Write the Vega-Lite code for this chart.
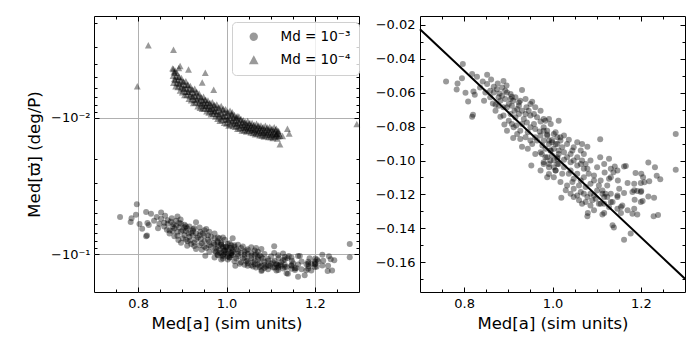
{
"$schema":"https://vega.github.io/schema/vega-lite/v6.json",
"padding":{"left":25,"top":15,"right":15,"bottom":5},
"background":"white",
"bounds":"flush",
"spacing":61,
"config":{"font":"DejaVu Sans","view":{"stroke":"black","strokeWidth":1},
"axis":{"domain":false,"labelFontSize":13,"labelColor":"black","titleFontSize":16.5,"titleFontWeight":"normal","titleColor":"black","tickColor":"black","tickWidth":1,"gridColor":"#b0b0b0","gridWidth":1,"labelOverlap":false,"labelFlush":false}},
"datasets":{
"fit":[{"a":0.7,"w":-0.0225},{"a":1.3,"w":-0.1698}],
"pts":[
{"a":0.759,"w":-0.0533,"s":"3"},{"a":0.797,"w":-0.0431,"s":"3"},{"a":0.785,"w":-0.0545,"s":"3"},{"a":0.783,"w":-0.0581,"s":"3"},{"a":0.795,"w":-0.0514,"s":"3"},{"a":0.803,"w":-0.06,"s":"3"},{"a":0.809,"w":-0.0651,"s":"3"},{"a":0.82,"w":-0.073,"s":"3"},{"a":0.818,"w":-0.0741,"s":"3"},{"a":0.821,"w":-0.0592,"s":"3"},
{"a":0.824,"w":-0.0612,"s":"3"},{"a":0.818,"w":-0.049,"s":"3"},{"a":0.829,"w":-0.0506,"s":"3"},{"a":0.842,"w":-0.0533,"s":"3"},{"a":0.852,"w":-0.0494,"s":"3"},{"a":0.861,"w":-0.0522,"s":"3"},{"a":0.845,"w":-0.0647,"s":"3"},{"a":0.859,"w":-0.0627,"s":"3"},{"a":0.867,"w":-0.0565,"s":"3"},{"a":0.876,"w":-0.0545,"s":"3"},
{"a":0.889,"w":-0.053,"s":"3"},{"a":0.896,"w":-0.0557,"s":"3"},{"a":0.865,"w":-0.0663,"s":"3"},{"a":0.871,"w":-0.0706,"s":"3"},{"a":0.88,"w":-0.0604,"s":"3"},{"a":0.886,"w":-0.0618,"s":"3"},{"a":0.905,"w":-0.0608,"s":"3"},{"a":0.908,"w":-0.0624,"s":"3"},{"a":0.882,"w":-0.0741,"s":"3"},{"a":0.891,"w":-0.0788,"s":"3"},
{"a":0.897,"w":-0.0824,"s":"3"},{"a":0.911,"w":-0.0867,"s":"3"},{"a":0.924,"w":-0.0657,"s":"3"},{"a":0.939,"w":-0.0637,"s":"3"},{"a":0.954,"w":-0.0653,"s":"3"},{"a":0.941,"w":-0.0686,"s":"3"},{"a":0.924,"w":-0.0726,"s":"3"},{"a":0.935,"w":-0.0755,"s":"3"},{"a":0.95,"w":-0.0735,"s":"3"},{"a":0.905,"w":-0.0726,"s":"3"},
{"a":0.914,"w":-0.0706,"s":"3"},{"a":0.889,"w":-0.0686,"s":"3"},{"a":0.878,"w":-0.0677,"s":"3"},{"a":0.871,"w":-0.0671,"s":"3"},{"a":0.901,"w":-0.0667,"s":"3"},{"a":0.912,"w":-0.0804,"s":"3"},{"a":0.927,"w":-0.0824,"s":"3"},{"a":0.944,"w":-0.0833,"s":"3"},{"a":0.931,"w":-0.0918,"s":"3"},{"a":0.944,"w":-0.0931,"s":"3"},
{"a":0.918,"w":-0.0794,"s":"3"},{"a":0.958,"w":-0.0784,"s":"3"},{"a":0.973,"w":-0.0769,"s":"3"},{"a":0.971,"w":-0.0828,"s":"3"},{"a":0.965,"w":-0.0882,"s":"3"},{"a":0.954,"w":-0.0902,"s":"3"},{"a":0.977,"w":-0.0912,"s":"3"},{"a":0.988,"w":-0.0847,"s":"3"},{"a":0.999,"w":-0.0879,"s":"3"},{"a":1.011,"w":-0.0902,"s":"3"},
{"a":0.996,"w":-0.0941,"s":"3"},{"a":0.988,"w":-0.0981,"s":"3"},{"a":1.003,"w":-0.1,"s":"3"},{"a":1.014,"w":-0.0765,"s":"3"},{"a":0.952,"w":-0.103,"s":"3"},{"a":0.973,"w":-0.1059,"s":"3"},{"a":0.992,"w":-0.1079,"s":"3"},{"a":1.007,"w":-0.1059,"s":"3"},{"a":0.924,"w":-0.0677,"s":"3"},{"a":0.911,"w":-0.0647,"s":"3"},
{"a":0.931,"w":-0.0584,"s":"3"},{"a":0.893,"w":-0.0588,"s":"3"},
{"a":1.108,"w":-0.0875,"s":"3"},{"a":1.079,"w":-0.0918,"s":"3"},{"a":1.279,"w":-0.0843,"s":"3"},{"a":1.279,"w":-0.1055,"s":"3"},{"a":1.108,"w":-0.098,"s":"3"},{"a":1.128,"w":-0.099,"s":"3"},{"a":1.162,"w":-0.1035,"s":"3"},{"a":1.217,"w":-0.1012,"s":"3"},{"a":1.232,"w":-0.1039,"s":"3"},{"a":1.236,"w":-0.109,"s":"3"},
{"a":1.244,"w":-0.111,"s":"3"},{"a":1.201,"w":-0.1078,"s":"3"},{"a":1.188,"w":-0.1074,"s":"3"},{"a":1.205,"w":-0.1098,"s":"3"},{"a":1.219,"w":-0.1122,"s":"3"},{"a":1.208,"w":-0.1128,"s":"3"},{"a":1.141,"w":-0.1035,"s":"3"},{"a":1.138,"w":-0.1069,"s":"3"},{"a":1.147,"w":-0.1059,"s":"3"},{"a":1.118,"w":-0.1071,"s":"3"},
{"a":1.132,"w":-0.1098,"s":"3"},{"a":1.148,"w":-0.1118,"s":"3"},{"a":1.17,"w":-0.1133,"s":"3"},{"a":1.185,"w":-0.1137,"s":"3"},{"a":1.2,"w":-0.1133,"s":"3"},{"a":1.181,"w":-0.1186,"s":"3"},{"a":1.192,"w":-0.118,"s":"3"},{"a":1.201,"w":-0.118,"s":"3"},{"a":1.162,"w":-0.1192,"s":"3"},{"a":1.151,"w":-0.1167,"s":"3"},
{"a":1.186,"w":-0.1231,"s":"3"},{"a":1.204,"w":-0.1239,"s":"3"},{"a":1.217,"w":-0.1212,"s":"3"},{"a":1.23,"w":-0.122,"s":"3"},{"a":1.158,"w":-0.1265,"s":"3"},{"a":1.185,"w":-0.1284,"s":"3"},{"a":1.02,"w":-0.122,"s":"3"},{"a":1.079,"w":-0.1216,"s":"3"},{"a":1.067,"w":-0.1255,"s":"3"},{"a":1.086,"w":-0.1265,"s":"3"},
{"a":0.988,"w":-0.0853,"s":"3"},{"a":1.003,"w":-0.0843,"s":"3"},{"a":1.018,"w":-0.0882,"s":"3"},{"a":1.033,"w":-0.0902,"s":"3"},{"a":1.048,"w":-0.0922,"s":"3"},{"a":0.995,"w":-0.0941,"s":"3"},{"a":1.014,"w":-0.0961,"s":"3"},{"a":1.033,"w":-0.098,"s":"3"},{"a":1.048,"w":-0.1,"s":"3"},{"a":1.064,"w":-0.102,"s":"3"},
{"a":1.079,"w":-0.1049,"s":"3"},{"a":1.094,"w":-0.1088,"s":"3"},{"a":1.109,"w":-0.1118,"s":"3"},{"a":1.124,"w":-0.1147,"s":"3"},{"a":1.132,"w":-0.1196,"s":"3"},{"a":1.117,"w":-0.1216,"s":"3"},{"a":1.101,"w":-0.1177,"s":"3"},{"a":1.086,"w":-0.1137,"s":"3"},{"a":1.071,"w":-0.1098,"s":"3"},{"a":1.056,"w":-0.1078,"s":"3"},
{"a":1.041,"w":-0.1059,"s":"3"},{"a":1.026,"w":-0.1039,"s":"3"},{"a":1.011,"w":-0.102,"s":"3"},{"a":0.995,"w":-0.1,"s":"3"},{"a":0.984,"w":-0.098,"s":"3"},{"a":1.003,"w":-0.1098,"s":"3"},{"a":1.018,"w":-0.1127,"s":"3"},{"a":1.033,"w":-0.1147,"s":"3"},{"a":1.048,"w":-0.1167,"s":"3"},{"a":1.064,"w":-0.1186,"s":"3"},
{"a":1.098,"w":-0.1226,"s":"3"},{"a":1.117,"w":-0.1255,"s":"3"},{"a":1.132,"w":-0.1245,"s":"3"},{"a":1.147,"w":-0.1216,"s":"3"},{"a":1.155,"w":-0.1275,"s":"3"},{"a":0.988,"w":-0.1098,"s":"3"},{"a":1.045,"w":-0.0941,"s":"3"},{"a":1.064,"w":-0.0941,"s":"3"},{"a":1.071,"w":-0.0961,"s":"3"},{"a":1.086,"w":-0.1,"s":"3"},
{"a":1.101,"w":-0.1039,"s":"3"},{"a":1.117,"w":-0.102,"s":"3"},{"a":1.132,"w":-0.1049,"s":"3"},
{"a":1.079,"w":-0.1329,"s":"3"},{"a":1.08,"w":-0.131,"s":"3"},{"a":1.113,"w":-0.1318,"s":"3"},{"a":1.117,"w":-0.131,"s":"3"},{"a":1.136,"w":-0.1382,"s":"3"},{"a":1.139,"w":-0.1396,"s":"3"},{"a":1.177,"w":-0.1431,"s":"3"},{"a":1.162,"w":-0.1467,"s":"3"},{"a":1.229,"w":-0.1329,"s":"3"},{"a":1.239,"w":-0.1322,"s":"3"},
{"a":1.181,"w":-0.1314,"s":"3"},{"a":1.192,"w":-0.1318,"s":"3"},{"a":1.155,"w":-0.131,"s":"3"},{"a":1.147,"w":-0.1284,"s":"3"},{"a":1.17,"w":-0.1294,"s":"3"},{"a":1.2,"w":-0.1245,"s":"3"},{"a":1.109,"w":-0.1255,"s":"3"},{"a":1.124,"w":-0.1216,"s":"3"},{"a":1.136,"w":-0.1245,"s":"3"},{"a":1.147,"w":-0.1206,"s":"3"},
{"a":1.113,"w":-0.1196,"s":"3"},{"a":1.094,"w":-0.1206,"s":"3"},{"a":1.071,"w":-0.1196,"s":"3"},{"a":1.056,"w":-0.1206,"s":"3"},{"a":1.041,"w":-0.1196,"s":"3"},{"a":1.094,"w":-0.1294,"s":"3"},{"a":1.128,"w":-0.1275,"s":"3"},{"a":1.185,"w":-0.1176,"s":"3"},{"a":1.2,"w":-0.1186,"s":"3"},{"a":1.166,"w":-0.1033,"s":"3"},
{"a":0.874,"w":-0.0579,"s":"3"},{"a":0.886,"w":-0.0569,"s":"3"},{"a":0.897,"w":-0.0598,"s":"3"},{"a":0.905,"w":-0.0637,"s":"3"},{"a":0.916,"w":-0.0627,"s":"3"},{"a":0.927,"w":-0.0647,"s":"3"},{"a":0.897,"w":-0.0686,"s":"3"},{"a":0.908,"w":-0.0677,"s":"3"},{"a":0.92,"w":-0.0696,"s":"3"},{"a":0.931,"w":-0.0706,"s":"3"},
{"a":0.939,"w":-0.0726,"s":"3"},{"a":0.946,"w":-0.0706,"s":"3"},{"a":0.958,"w":-0.0726,"s":"3"},{"a":0.965,"w":-0.0745,"s":"3"},{"a":0.942,"w":-0.0775,"s":"3"},{"a":0.931,"w":-0.0784,"s":"3"},{"a":0.95,"w":-0.0804,"s":"3"},{"a":0.961,"w":-0.0814,"s":"3"},{"a":0.98,"w":-0.0804,"s":"3"},{"a":0.988,"w":-0.0824,"s":"3"},
{"a":0.973,"w":-0.0853,"s":"3"},{"a":0.961,"w":-0.0863,"s":"3"},{"a":0.98,"w":-0.0882,"s":"3"},{"a":0.992,"w":-0.0902,"s":"3"},{"a":1.003,"w":-0.0931,"s":"3"},{"a":1.014,"w":-0.0941,"s":"3"},{"a":0.984,"w":-0.0931,"s":"3"},{"a":0.973,"w":-0.0951,"s":"3"},{"a":0.961,"w":-0.0961,"s":"3"},{"a":0.999,"w":-0.0971,"s":"3"},
{"a":1.011,"w":-0.099,"s":"3"},{"a":1.014,"w":-0.102,"s":"3"},{"a":0.992,"w":-0.102,"s":"3"},{"a":1.003,"w":-0.1039,"s":"3"},{"a":0.98,"w":-0.101,"s":"3"},{"a":0.939,"w":-0.0863,"s":"3"},{"a":0.927,"w":-0.0873,"s":"3"},{"a":0.95,"w":-0.0882,"s":"3"},{"a":0.92,"w":-0.0843,"s":"3"},{"a":0.889,"w":-0.0735,"s":"3"},
{"a":0.882,"w":-0.0647,"s":"3"},{"a":0.893,"w":-0.0637,"s":"3"},{"a":0.867,"w":-0.0598,"s":"3"},{"a":0.859,"w":-0.0588,"s":"3"},{"a":0.852,"w":-0.0549,"s":"3"},{"a":0.836,"w":-0.0569,"s":"3"},{"a":0.848,"w":-0.0598,"s":"3"},{"a":0.878,"w":-0.0627,"s":"3"},{"a":0.916,"w":-0.0745,"s":"3"},{"a":0.901,"w":-0.0765,"s":"3"},
{"a":0.908,"w":-0.0784,"s":"3"},{"a":0.973,"w":-0.0706,"s":"3"},{"a":0.98,"w":-0.0755,"s":"3"},{"a":0.996,"w":-0.0784,"s":"3"},{"a":1.007,"w":-0.0833,"s":"3"},{"a":1.018,"w":-0.0863,"s":"3"},{"a":0.992,"w":-0.0755,"s":"3"},{"a":0.95,"w":-0.0667,"s":"3"},{"a":0.961,"w":-0.0686,"s":"3"},
{"a":0.98,"w":-0.0824,"s":"3"},{"a":0.992,"w":-0.0882,"s":"3"},{"a":1.007,"w":-0.0902,"s":"3"},{"a":1.022,"w":-0.0922,"s":"3"},{"a":1.026,"w":-0.0951,"s":"3"},{"a":1.041,"w":-0.0961,"s":"3"},{"a":1.056,"w":-0.098,"s":"3"},{"a":1.067,"w":-0.1,"s":"3"},{"a":1.075,"w":-0.102,"s":"3"},{"a":1.082,"w":-0.1078,"s":"3"},
{"a":1.094,"w":-0.1118,"s":"3"},{"a":1.105,"w":-0.1147,"s":"3"},{"a":1.113,"w":-0.1177,"s":"3"},{"a":1.12,"w":-0.1196,"s":"3"},{"a":1.128,"w":-0.1108,"s":"3"},{"a":1.064,"w":-0.1118,"s":"3"},{"a":1.075,"w":-0.1157,"s":"3"},{"a":1.086,"w":-0.1196,"s":"3"},{"a":1.048,"w":-0.1108,"s":"3"},{"a":1.037,"w":-0.1078,"s":"3"},
{"a":1.022,"w":-0.1078,"s":"3"},{"a":1.007,"w":-0.1059,"s":"3"},{"a":0.992,"w":-0.1039,"s":"3"},{"a":0.98,"w":-0.102,"s":"3"},{"a":0.976,"w":-0.0961,"s":"3"},{"a":1.06,"w":-0.1147,"s":"3"},{"a":1.045,"w":-0.1127,"s":"3"},{"a":1.03,"w":-0.1176,"s":"3"},{"a":1.048,"w":-0.1216,"s":"3"},{"a":1.06,"w":-0.1235,"s":"3"},
{"a":1.075,"w":-0.1245,"s":"3"},{"a":1.09,"w":-0.1235,"s":"3"},{"a":1.105,"w":-0.1255,"s":"3"},{"a":1.071,"w":-0.1049,"s":"3"},{"a":1.056,"w":-0.1029,"s":"3"},{"a":1.041,"w":-0.101,"s":"3"},{"a":1.026,"w":-0.0996,"s":"3"},{"a":1.011,"w":-0.098,"s":"3"},{"a":0.999,"w":-0.0892,"s":"3"},{"a":1.011,"w":-0.0863,"s":"3"},
{"a":1.026,"w":-0.0853,"s":"3"},{"a":1.037,"w":-0.0878,"s":"3"},{"a":1.056,"w":-0.0892,"s":"3"},{"a":1.067,"w":-0.0902,"s":"3"},{"a":0.984,"w":-0.0765,"s":"3"},
{"a":0.878,"w":-0.004325,"s":"4"},{"a":0.881,"w":-0.004604,"s":"4"},{"a":0.879,"w":-0.004898,"s":"4"},{"a":0.882,"w":-0.005177,"s":"4"},{"a":0.88,"w":-0.00551,"s":"4"},
{"a":0.883,"w":-0.004657,"s":"4"},{"a":0.886,"w":-0.004955,"s":"4"},{"a":0.884,"w":-0.005237,"s":"4"},{"a":0.887,"w":-0.005534,"s":"4"},{"a":0.885,"w":-0.005847,"s":"4"},
{"a":0.888,"w":-0.004677,"s":"4"},{"a":0.891,"w":-0.004978,"s":"4"},{"a":0.889,"w":-0.005295,"s":"4"},{"a":0.892,"w":-0.005596,"s":"4"},{"a":0.89,"w":-0.005918,"s":"4"},
{"a":0.893,"w":-0.004975,"s":"4"},{"a":0.896,"w":-0.005298,"s":"4"},{"a":0.894,"w":-0.005598,"s":"4"},{"a":0.897,"w":-0.005959,"s":"4"},{"a":0.895,"w":-0.006298,"s":"4"},
{"a":0.898,"w":-0.005081,"s":"4"},{"a":0.901,"w":-0.005409,"s":"4"},{"a":0.899,"w":-0.005754,"s":"4"},{"a":0.902,"w":-0.006082,"s":"4"},{"a":0.9,"w":-0.006473,"s":"4"},
{"a":0.903,"w":-0.005409,"s":"4"},{"a":0.906,"w":-0.005754,"s":"4"},{"a":0.904,"w":-0.006082,"s":"4"},{"a":0.907,"w":-0.006428,"s":"4"},{"a":0.905,"w":-0.006791,"s":"4"},
{"a":0.908,"w":-0.005371,"s":"4"},{"a":0.911,"w":-0.005716,"s":"4"},{"a":0.909,"w":-0.00608,"s":"4"},{"a":0.912,"w":-0.006425,"s":"4"},{"a":0.91,"w":-0.006795,"s":"4"},
{"a":0.913,"w":-0.005713,"s":"4"},{"a":0.916,"w":-0.006083,"s":"4"},{"a":0.914,"w":-0.006428,"s":"4"},{"a":0.917,"w":-0.006843,"s":"4"},{"a":0.915,"w":-0.007232,"s":"4"},
{"a":0.918,"w":-0.005834,"s":"4"},{"a":0.921,"w":-0.006211,"s":"4"},{"a":0.919,"w":-0.006607,"s":"4"},{"a":0.922,"w":-0.006984,"s":"4"},{"a":0.92,"w":-0.007433,"s":"4"},
{"a":0.923,"w":-0.006182,"s":"4"},{"a":0.926,"w":-0.006577,"s":"4"},{"a":0.924,"w":-0.006951,"s":"4"},{"a":0.927,"w":-0.007346,"s":"4"},{"a":0.925,"w":-0.007761,"s":"4"},
{"a":0.928,"w":-0.006095,"s":"4"},{"a":0.931,"w":-0.006487,"s":"4"},{"a":0.929,"w":-0.0069,"s":"4"},{"a":0.932,"w":-0.007292,"s":"4"},{"a":0.93,"w":-0.007712,"s":"4"},
{"a":0.933,"w":-0.006483,"s":"4"},{"a":0.936,"w":-0.006904,"s":"4"},{"a":0.934,"w":-0.007295,"s":"4"},{"a":0.937,"w":-0.007766,"s":"4"},{"a":0.935,"w":-0.008207,"s":"4"},
{"a":0.938,"w":-0.006622,"s":"4"},{"a":0.941,"w":-0.007049,"s":"4"},{"a":0.939,"w":-0.007499,"s":"4"},{"a":0.942,"w":-0.007926,"s":"4"},{"a":0.94,"w":-0.008436,"s":"4"},
{"a":0.943,"w":-0.007083,"s":"4"},{"a":0.946,"w":-0.007459,"s":"4"},{"a":0.944,"w":-0.007804,"s":"4"},{"a":0.947,"w":-0.008173,"s":"4"},{"a":0.945,"w":-0.008564,"s":"4"},
{"a":0.948,"w":-0.006996,"s":"4"},{"a":0.951,"w":-0.007373,"s":"4"},{"a":0.949,"w":-0.007766,"s":"4"},{"a":0.952,"w":-0.008127,"s":"4"},{"a":0.95,"w":-0.008512,"s":"4"},
{"a":0.953,"w":-0.007345,"s":"4"},{"a":0.956,"w":-0.007732,"s":"4"},{"a":0.954,"w":-0.008102,"s":"4"},{"a":0.957,"w":-0.008529,"s":"4"},{"a":0.955,"w":-0.008932,"s":"4"},
{"a":0.958,"w":-0.007451,"s":"4"},{"a":0.961,"w":-0.007847,"s":"4"},{"a":0.959,"w":-0.00826,"s":"4"},{"a":0.962,"w":-0.008648,"s":"4"},{"a":0.96,"w":-0.009111,"s":"4"},
{"a":0.963,"w":-0.007784,"s":"4"},{"a":0.966,"w":-0.008197,"s":"4"},{"a":0.964,"w":-0.008576,"s":"4"},{"a":0.967,"w":-0.008981,"s":"4"},{"a":0.965,"w":-0.009411,"s":"4"},
{"a":0.968,"w":-0.007672,"s":"4"},{"a":0.971,"w":-0.008085,"s":"4"},{"a":0.969,"w":-0.008515,"s":"4"},{"a":0.972,"w":-0.008911,"s":"4"},{"a":0.97,"w":-0.009333,"s":"4"},
{"a":0.973,"w":-0.008035,"s":"4"},{"a":0.976,"w":-0.008458,"s":"4"},{"a":0.974,"w":-0.008863,"s":"4"},{"a":0.977,"w":-0.00933,"s":"4"},{"a":0.975,"w":-0.00977,"s":"4"},
{"a":0.978,"w":-0.007961,"s":"4"},{"a":0.981,"w":-0.008475,"s":"4"},{"a":0.979,"w":-0.009016,"s":"4"},{"a":0.982,"w":-0.00953,"s":"4"},{"a":0.98,"w":-0.01014,"s":"4"},
{"a":0.983,"w":-0.008357,"s":"4"},{"a":0.986,"w":-0.008891,"s":"4"},{"a":0.984,"w":-0.009397,"s":"4"},{"a":0.987,"w":-0.009931,"s":"4"},{"a":0.985,"w":-0.01049,"s":"4"},
{"a":0.988,"w":-0.008185,"s":"4"},{"a":0.991,"w":-0.008711,"s":"4"},{"a":0.989,"w":-0.009265,"s":"4"},{"a":0.992,"w":-0.009792,"s":"4"},{"a":0.99,"w":-0.01036,"s":"4"},
{"a":0.993,"w":-0.008587,"s":"4"},{"a":0.996,"w":-0.009143,"s":"4"},{"a":0.994,"w":-0.009661,"s":"4"},{"a":0.997,"w":-0.01028,"s":"4"},{"a":0.995,"w":-0.01087,"s":"4"},
{"a":0.998,"w":-0.008629,"s":"4"},{"a":1.001,"w":-0.009186,"s":"4"},{"a":0.999,"w":-0.009772,"s":"4"},{"a":1.002,"w":-0.01033,"s":"4"},{"a":1.0,"w":-0.01099,"s":"4"},
{"a":1.003,"w":-0.009059,"s":"4"},{"a":1.006,"w":-0.009638,"s":"4"},{"a":1.004,"w":-0.01019,"s":"4"},{"a":1.007,"w":-0.01077,"s":"4"},{"a":1.005,"w":-0.01137,"s":"4"},
{"a":1.008,"w":-0.008851,"s":"4"},{"a":1.011,"w":-0.00942,"s":"4"},{"a":1.009,"w":-0.01002,"s":"4"},{"a":1.012,"w":-0.01059,"s":"4"},{"a":1.01,"w":-0.0112,"s":"4"},
{"a":1.013,"w":-0.00944,"s":"4"},{"a":1.016,"w":-0.009937,"s":"4"},{"a":1.014,"w":-0.01041,"s":"4"},{"a":1.017,"w":-0.01096,"s":"4"},{"a":1.015,"w":-0.01148,"s":"4"},
{"a":1.018,"w":-0.009511,"s":"4"},{"a":1.021,"w":-0.01002,"s":"4"},{"a":1.019,"w":-0.01054,"s":"4"},{"a":1.022,"w":-0.01104,"s":"4"},{"a":1.02,"w":-0.01163,"s":"4"},
{"a":1.023,"w":-0.009936,"s":"4"},{"a":1.026,"w":-0.01046,"s":"4"},{"a":1.024,"w":-0.01095,"s":"4"},{"a":1.027,"w":-0.01146,"s":"4"},{"a":1.025,"w":-0.01201,"s":"4"},
{"a":1.028,"w":-0.00977,"s":"4"},{"a":1.031,"w":-0.0103,"s":"4"},{"a":1.029,"w":-0.01084,"s":"4"},{"a":1.032,"w":-0.01135,"s":"4"},{"a":1.03,"w":-0.01189,"s":"4"},
{"a":1.033,"w":-0.01016,"s":"4"},{"a":1.036,"w":-0.0107,"s":"4"},{"a":1.034,"w":-0.01121,"s":"4"},{"a":1.037,"w":-0.0118,"s":"4"},{"a":1.035,"w":-0.01236,"s":"4"},
{"a":1.038,"w":-0.01038,"s":"4"},{"a":1.041,"w":-0.01084,"s":"4"},{"a":1.039,"w":-0.01132,"s":"4"},{"a":1.042,"w":-0.01177,"s":"4"},{"a":1.04,"w":-0.0123,"s":"4"},
{"a":1.043,"w":-0.01072,"s":"4"},{"a":1.046,"w":-0.01121,"s":"4"},{"a":1.044,"w":-0.01165,"s":"4"},{"a":1.047,"w":-0.01211,"s":"4"},{"a":1.045,"w":-0.01258,"s":"4"},
{"a":1.048,"w":-0.01055,"s":"4"},{"a":1.051,"w":-0.01101,"s":"4"},{"a":1.049,"w":-0.0115,"s":"4"},{"a":1.052,"w":-0.01195,"s":"4"},{"a":1.05,"w":-0.01243,"s":"4"},
{"a":1.053,"w":-0.01088,"s":"4"},{"a":1.056,"w":-0.01136,"s":"4"},{"a":1.054,"w":-0.01181,"s":"4"},{"a":1.057,"w":-0.01234,"s":"4"},{"a":1.055,"w":-0.01282,"s":"4"},
{"a":1.058,"w":-0.0109,"s":"4"},{"a":1.061,"w":-0.01137,"s":"4"},{"a":1.059,"w":-0.01189,"s":"4"},{"a":1.062,"w":-0.01235,"s":"4"},{"a":1.06,"w":-0.01291,"s":"4"},
{"a":1.063,"w":-0.01123,"s":"4"},{"a":1.066,"w":-0.01173,"s":"4"},{"a":1.064,"w":-0.0122,"s":"4"},{"a":1.067,"w":-0.01268,"s":"4"},{"a":1.065,"w":-0.01318,"s":"4"},
{"a":1.068,"w":-0.01104,"s":"4"},{"a":1.071,"w":-0.01153,"s":"4"},{"a":1.069,"w":-0.01204,"s":"4"},{"a":1.072,"w":-0.01251,"s":"4"},{"a":1.07,"w":-0.01301,"s":"4"},
{"a":1.073,"w":-0.01137,"s":"4"},{"a":1.076,"w":-0.01187,"s":"4"},{"a":1.074,"w":-0.01234,"s":"4"},{"a":1.077,"w":-0.01289,"s":"4"},{"a":1.075,"w":-0.01339,"s":"4"},
{"a":1.078,"w":-0.01136,"s":"4"},{"a":1.081,"w":-0.01186,"s":"4"},{"a":1.079,"w":-0.01239,"s":"4"},{"a":1.082,"w":-0.01287,"s":"4"},{"a":1.08,"w":-0.01345,"s":"4"},
{"a":1.083,"w":-0.01168,"s":"4"},{"a":1.086,"w":-0.0122,"s":"4"},{"a":1.084,"w":-0.01269,"s":"4"},{"a":1.087,"w":-0.01319,"s":"4"},{"a":1.085,"w":-0.0137,"s":"4"},
{"a":1.088,"w":-0.01143,"s":"4"},{"a":1.091,"w":-0.01193,"s":"4"},{"a":1.089,"w":-0.01246,"s":"4"},{"a":1.092,"w":-0.01295,"s":"4"},{"a":1.09,"w":-0.01347,"s":"4"},
{"a":1.093,"w":-0.01174,"s":"4"},{"a":1.096,"w":-0.01226,"s":"4"},{"a":1.094,"w":-0.01274,"s":"4"},{"a":1.097,"w":-0.01331,"s":"4"},{"a":1.095,"w":-0.01383,"s":"4"},
{"a":1.098,"w":-0.01168,"s":"4"},{"a":1.101,"w":-0.01219,"s":"4"},{"a":1.099,"w":-0.01274,"s":"4"},{"a":1.102,"w":-0.01323,"s":"4"},{"a":1.1,"w":-0.01383,"s":"4"},
{"a":1.103,"w":-0.01198,"s":"4"},{"a":1.106,"w":-0.01252,"s":"4"},{"a":1.104,"w":-0.01302,"s":"4"},{"a":1.107,"w":-0.01353,"s":"4"},{"a":1.105,"w":-0.01405,"s":"4"},
{"a":1.108,"w":-0.0117,"s":"4"},{"a":1.111,"w":-0.01221,"s":"4"},{"a":1.109,"w":-0.01275,"s":"4"},{"a":1.112,"w":-0.01326,"s":"4"},{"a":1.11,"w":-0.01378,"s":"4"},
{"a":1.113,"w":-0.01201,"s":"4"},{"a":1.116,"w":-0.01254,"s":"4"},{"a":1.114,"w":-0.01304,"s":"4"},{"a":1.117,"w":-0.01362,"s":"4"},{"a":1.115,"w":-0.01415,"s":"4"},
{"a":1.118,"w":-0.01247,"s":"4"},{"a":1.121,"w":-0.01354,"s":"4"},{"a":1.119,"w":-0.01303,"s":"4"},
{"a":0.823,"w":-0.00292,"s":"4"},{"a":0.88,"w":-0.00316,"s":"4"},{"a":0.798,"w":-0.00585,"s":"4"},{"a":1.295,"w":-0.0111,"s":"4"},{"a":1.138,"w":-0.012,"s":"4"},{"a":1.142,"w":-0.013,"s":"4"},{"a":1.121,"w":-0.0156,"s":"4"},{"a":1.127,"w":-0.0136,"s":"4"},{"a":1.114,"w":-0.0132,"s":"4"},{"a":0.914,"w":-0.0044,"s":"4"},
{"a":0.952,"w":-0.00465,"s":"4"},{"a":0.971,"w":-0.0062,"s":"4"},{"a":0.945,"w":-0.0055,"s":"4"},{"a":1.024,"w":-0.0097,"s":"4"},{"a":1.013,"w":-0.0091,"s":"4"},{"a":0.892,"w":-0.0043,"s":"4"},{"a":0.884,"w":-0.0045,"s":"4"},{"a":0.88,"w":-0.00437,"s":"4"},{"a":0.895,"w":-0.00415,"s":"4"}
]},
"hconcat":[
{"width":265,"height":276,"data":{"name":"pts"},
"layer":[
{"mark":{"type":"point","filled":true,"color":"black","opacity":0.4,"size":36,"strokeWidth":0},
"encoding":{
"x":{"field":"a","type":"quantitative","scale":{"domain":[0.7,1.3],"nice":false,"zero":false},
"axis":{"orient":"bottom","values":[0.75,0.8,0.85,0.9,0.95,1.0,1.05,1.1,1.15,1.2,1.25],"grid":true,
"gridOpacity":{"condition":{"test":"abs(datum.value*5-round(datum.value*5))<0.001","value":1},"value":0},
"tickSize":{"condition":{"test":"abs(datum.value*5-round(datum.value*5))<0.001","value":-5},"value":-3},
"labelExpr":"abs(datum.value*5-round(datum.value*5))<0.001 ? format(datum.value,'.1f') : ''",
"labelPadding":10,"title":"Med[a] (sim units)","titlePadding":3}},
"y":{"field":"w","type":"quantitative","scale":{"type":"log","domain":[-0.19,-0.00178],"nice":false,"zero":false},
"axis":{"orient":"left","values":[-0.002,-0.003,-0.004,-0.005,-0.006,-0.007,-0.008,-0.009,-0.01,-0.02,-0.03,-0.04,-0.05,-0.06,-0.07,-0.08,-0.09,-0.1],"grid":true,
"gridOpacity":{"condition":{"test":"abs(datum.value+0.01)<0.0001 || abs(datum.value+0.1)<0.0001","value":1},"value":0},
"tickSize":{"condition":{"test":"abs(datum.value+0.01)<0.0001 || abs(datum.value+0.1)<0.0001","value":-5},"value":-3},
"labelExpr":"abs(datum.value+0.01)<0.0001 ? '−10⁻²' : (abs(datum.value+0.1)<0.0001 ? '−10⁻¹' : '')",
"labelPadding":9,"title":"Med[ϖ̇] (deg/P)","titlePadding":8}},
"shape":{"field":"s","type":"nominal","scale":{"domain":["3","4"],"range":["circle","M0,-1.1L1.15,1.05L-1.15,1.05Z"]},
"legend":{"orient":"none","legendX":138,"legendY":6,"title":null,"direction":"vertical",
"labelExpr":"datum.label == '3' ? 'Md = 10⁻³' : 'Md = 10⁻⁴'",
"labelFontSize":13.5,"labelColor":"black","symbolSize":70,"symbolFillColor":"#9a9a9a","symbolStrokeWidth":0,"symbolOpacity":0.4,
"padding":8,"rowPadding":8,"symbolOffset":7,"labelOffset":20,
"strokeColor":"#d0d0d0","fillColor":"rgba(255,255,255,0.8)","cornerRadius":4}}}},
{"mark":{"type":"point","opacity":0},
"encoding":{
"x":{"datum":1,"type":"quantitative","axis":{"orient":"top","values":[0.75,0.8,0.85,0.9,0.95,1.0,1.05,1.1,1.15,1.2,1.25],"grid":false,"labels":false,"title":null,
"tickSize":{"condition":{"test":"abs(datum.value*5-round(datum.value*5))<0.001","value":-5},"value":-3}}},
"y":{"datum":-0.01,"type":"quantitative","axis":{"orient":"right","values":[-0.002,-0.003,-0.004,-0.005,-0.006,-0.007,-0.008,-0.009,-0.01,-0.02,-0.03,-0.04,-0.05,-0.06,-0.07,-0.08,-0.09,-0.1],"grid":false,"labels":false,"title":null,
"tickSize":{"condition":{"test":"abs(datum.value+0.01)<0.0001 || abs(datum.value+0.1)<0.0001","value":-5},"value":-3}}}}}
],
"resolve":{"axis":{"x":"independent","y":"independent"}}},
{"width":265,"height":276,
"layer":[
{"data":{"name":"pts"},"transform":[{"filter":"datum.s == '3'"}],
"mark":{"type":"point","filled":true,"color":"black","opacity":0.4,"size":36,"strokeWidth":0},
"encoding":{
"x":{"field":"a","type":"quantitative","scale":{"domain":[0.7,1.3],"nice":false,"zero":false},
"axis":{"orient":"bottom","values":[0.75,0.8,0.85,0.9,0.95,1.0,1.05,1.1,1.15,1.2,1.25],"grid":false,
"tickSize":{"condition":{"test":"abs(datum.value*5-round(datum.value*5))<0.001","value":-5},"value":-3},
"labelExpr":"abs(datum.value*5-round(datum.value*5))<0.001 ? format(datum.value,'.1f') : ''",
"labelPadding":10,"title":"Med[a] (sim units)","titlePadding":3}},
"y":{"field":"w","type":"quantitative","scale":{"domain":[-0.1776,-0.0147],"nice":false,"zero":false},
"axis":{"orient":"left","values":[-0.02,-0.03,-0.04,-0.05,-0.06,-0.07,-0.08,-0.09,-0.1,-0.11,-0.12,-0.13,-0.14,-0.15,-0.16,-0.17],"grid":false,
"tickSize":{"condition":{"test":"abs(datum.value*50-round(datum.value*50))<0.001","value":-5},"value":-3},
"labelExpr":"abs(datum.value*50-round(datum.value*50))<0.001 ? format(datum.value,'.2f') : ''",
"labelPadding":10,"title":null}}}},
{"data":{"name":"fit"},"mark":{"type":"line","color":"black","strokeWidth":2},
"encoding":{"x":{"field":"a","type":"quantitative","axis":null},"y":{"field":"w","type":"quantitative","axis":null}}},
{"data":{"name":"fit"},"mark":{"type":"point","opacity":0},
"encoding":{
"x":{"datum":1,"type":"quantitative","axis":{"orient":"top","values":[0.75,0.8,0.85,0.9,0.95,1.0,1.05,1.1,1.15,1.2,1.25],"grid":false,"labels":false,"title":null,
"tickSize":{"condition":{"test":"abs(datum.value*5-round(datum.value*5))<0.001","value":-5},"value":-3}}},
"y":{"datum":-0.05,"type":"quantitative","axis":{"orient":"right","values":[-0.02,-0.03,-0.04,-0.05,-0.06,-0.07,-0.08,-0.09,-0.1,-0.11,-0.12,-0.13,-0.14,-0.15,-0.16,-0.17],"grid":false,"labels":false,"title":null,
"tickSize":{"condition":{"test":"abs(datum.value*50-round(datum.value*50))<0.001","value":-5},"value":-3}}}}}
],
"resolve":{"axis":{"x":"independent","y":"independent"}}}
]
}
